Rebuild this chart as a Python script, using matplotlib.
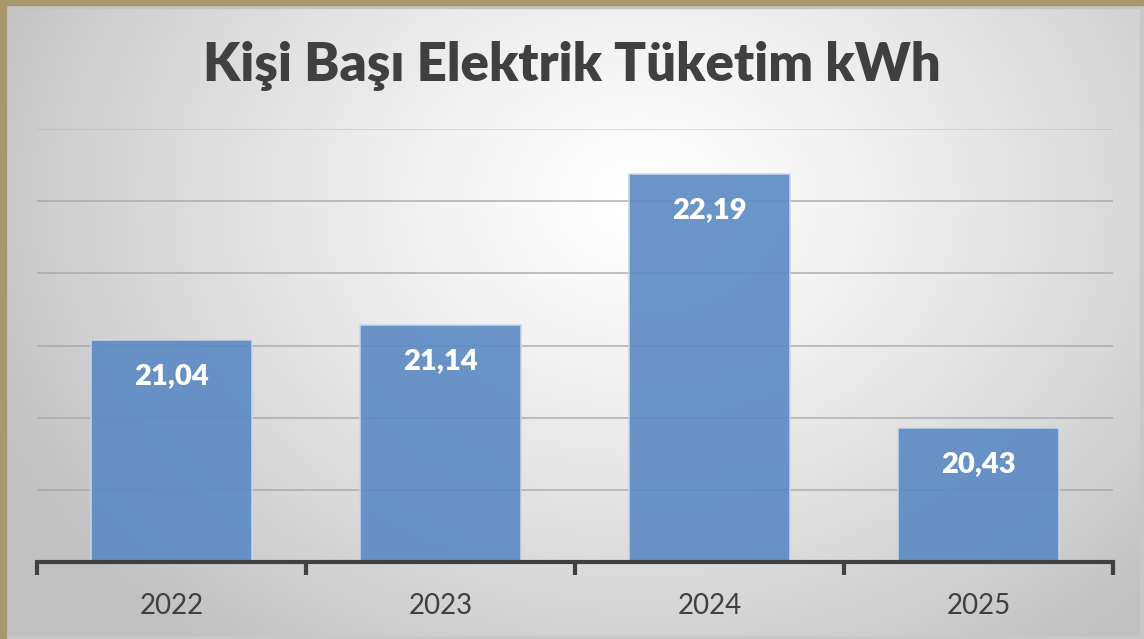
import numpy as np
import matplotlib.pyplot as plt
from matplotlib.patches import Rectangle

years = ["2022", "2023", "2024", "2025"]
values = [21.04, 21.14, 22.19, 20.43]
value_labels = ["21,04", "21,14", "22,19", "20,43"]
title = "Kişi Başı Elektrik Tüketim kWh"

plt.rcParams['font.family'] = ['Lato', 'DejaVu Sans']

fig = plt.figure(figsize=(11.44, 6.39), dpi=100)

# radial gradient background
bg = fig.add_axes([0, 0, 1, 1], zorder=-10)
h, w = 639, 1144
yy, xx = np.mgrid[0:h, 0:w]
d = np.sqrt(((xx - 640) / 700.0) ** 2 + ((yy - 200) / 560.0) ** 2)
d = np.clip(d, 0, 1)
shade = 1.0 - 0.24 * d ** 1.3
bg.imshow(np.dstack([shade, shade, shade]), extent=[0, 1, 0, 1], aspect='auto')
bg.set_xlim(0, 1)
bg.set_ylim(0, 1)
bg.axis('off')

# slide borders
fig.patches.append(Rectangle((0, 1 - 5 / h), 1, 5 / h, transform=fig.transFigure,
                             color='#A8976A', zorder=5))
fig.patches.append(Rectangle((0, 0), 6 / w, 1, transform=fig.transFigure,
                             color='#A8976A', zorder=5))
fig.patches.append(Rectangle((6 / w, 1 - 8 / h), 1, 3 / h, transform=fig.transFigure,
                             color='#C4C4C4', zorder=4))
fig.patches.append(Rectangle((1 - 4 / w, 0), 4 / w, 1, transform=fig.transFigure,
                             color='#C8C8C8', zorder=4))
fig.patches.append(Rectangle((0, 0), 1, 3 / h, transform=fig.transFigure,
                             color='#C8C8C8', zorder=4))

ax = fig.add_axes([37 / w, 1 - 562 / h, (1113 - 37) / w, (562 - 129) / h])
ax.patch.set_alpha(0)

x = np.arange(len(years))
bars = ax.bar(x, values, width=0.6, color='#5B8AC4', alpha=0.9,
              edgecolor='#C9D8EC', linewidth=1.2, zorder=3)

for xi, v, lab in zip(x, values, value_labels):
    ax.annotate(lab, (xi, v), xytext=(0, -36), textcoords='offset pixels',
                ha='center', va='center', color='white', fontsize=21,
                fontweight='heavy', zorder=4)

ax.set_xlim(-0.5, 3.5)
ax.set_ylim(19.5, 22.5)
ax.set_yticks([20, 20.5, 21, 21.5, 22, 22.5])
ax.yaxis.grid(True, color='#A6A6A6', linewidth=1.3, alpha=0.75, zorder=1)
ax.get_ygridlines()[-1].set_alpha(0.35)
ax.tick_params(axis='y', left=False, labelleft=False)

ax.set_xticks(np.arange(-0.5, 4, 1))
ax.set_xticklabels([])
ax.set_xticks(x, minor=True)
ax.set_xticklabels(years, minor=True)
ax.tick_params(axis='x', which='major', direction='out', length=9, width=3,
               color='#404040')
ax.tick_params(axis='x', which='minor', length=0, pad=22, labelsize=20,
               labelcolor='#404040')

for s in ['top', 'right', 'left']:
    ax.spines[s].set_visible(False)
ax.spines['bottom'].set_color('#404040')
ax.spines['bottom'].set_linewidth(3)
ax.spines['bottom'].set_zorder(5)

fig.text(0.5, 1 - 66 / h, title, ha='center', va='center', fontsize=38,
         fontweight='heavy', color='#404040')

fig.savefig('out.png', dpi=100)
